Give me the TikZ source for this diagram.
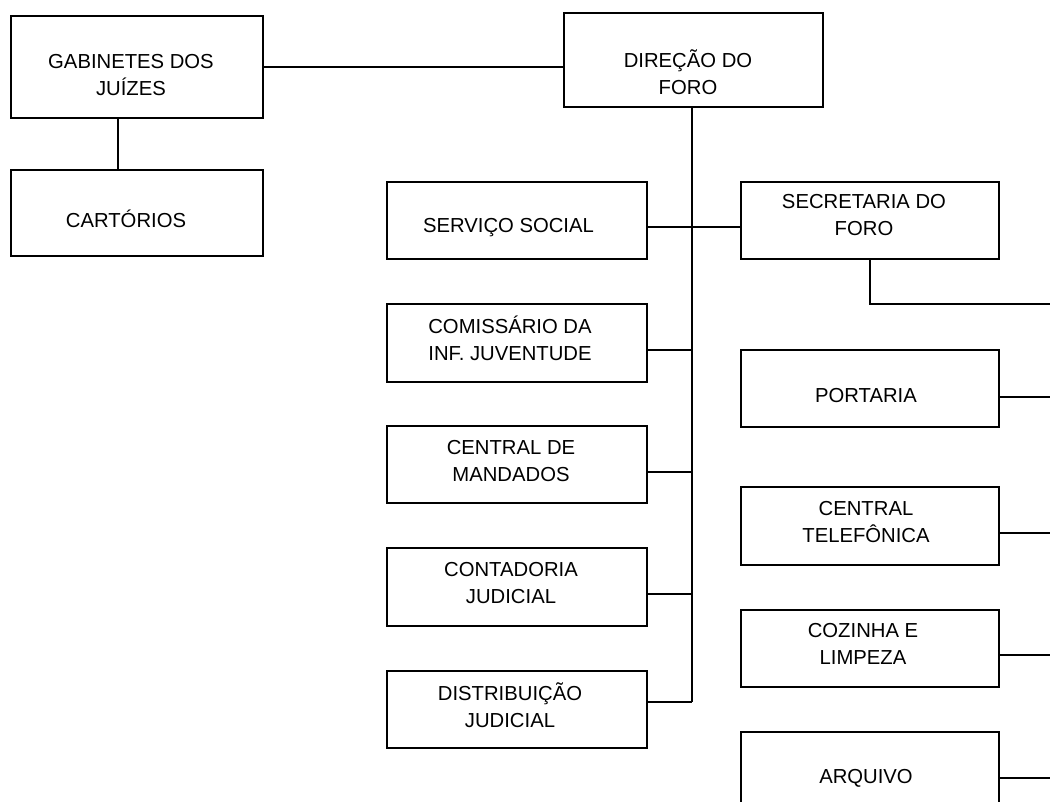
\documentclass[tikz,border=0pt]{standalone}
\usepackage{fontspec}
\setmainfont{Liberation Sans}
\newcommand{\boxfont}{\fontsize{15.2}{20.3}\selectfont}

\tikzset{every picture/.style={line width=1.5pt}}
\tikzset{
  unit/.style={draw, minimum width=195pt, minimum height=57.75pt, inner sep=0pt, outer sep=0pt},
  caption/.style={inner sep=0pt, align=center, font=\boxfont}
}

\begin{document}
\begin{tikzpicture}[x=0.75pt,y=0.75pt,yscale=-1,xscale=1]
%set diagram left start at 0, and has height of 802
\clip (0,0) rectangle (1050,802);

%Shape: Rectangle [id:gab]
\node [unit, minimum width=189pt, minimum height=76.5pt] (gab) at (137,67) {};
%Shape: Rectangle [id:cart]
\node [unit, minimum width=189pt, minimum height=64.5pt] (cart) at (137,213) {};
%Shape: Rectangle [id:dir]
\node [unit, minimum width=194.25pt, minimum height=70.5pt] (dir) at (693.5,60) {};

%Shape: Rectangle [id:serv]
\node [unit] (serv) at (517,220.5) {};
%Shape: Rectangle [id:com]
\node [unit, minimum height=58.5pt] (com) at (517,343) {};
%Shape: Rectangle [id:mand]
\node [unit] (mand) at (517,464.5) {};
%Shape: Rectangle [id:cont]
\node [unit, minimum height=58.5pt] (cont) at (517,587) {};
%Shape: Rectangle [id:dist]
\node [unit] (dist) at (517,709.5) {};

%Shape: Rectangle [id:sec]
\node [unit, minimum width=193.5pt] (sec) at (870,220.5) {};
%Shape: Rectangle [id:port]
\node [unit, minimum width=193.5pt] (port) at (870,388.5) {};
%Shape: Rectangle [id:tel]
\node [unit, minimum width=193.5pt, minimum height=58.5pt] (tel) at (870,526) {};
%Shape: Rectangle [id:coz]
\node [unit, minimum width=193.5pt] (coz) at (870,648.5) {};
%Shape: Rectangle [id:arq]
\node [unit, minimum width=193.5pt] (arq) at (870,770.5) {};

%Straight Lines [id:trunk]
\coordinate (gabdrop) at (118,0);
\coordinate (trunk) at (692,0);
\coordinate (rbus) at (1050,0);
\draw (gab.east) -- (gab.east -| dir.west);
\draw (gabdrop |- gab.south) -- (gabdrop |- cart.north);
\draw (trunk |- dir.south) -- (trunk |- 0,702);
\draw (serv.east |- 0,227) -- (sec.west |- 0,227);
\foreach \n/\y in {com/350, mand/472, cont/594, dist/702}
  \draw (\n.east |- 0,\y) -- (trunk |- 0,\y);
\draw (sec.south) |- (rbus |- 0,304);
\foreach \n/\y in {port/397, tel/533, coz/655, arq/778}
  \draw (\n.east |- 0,\y) -- (rbus |- 0,\y);

% Text Node
\node [caption] (gabtxt) at (131,75) {GABINETES DOS\\JUÍZES};
% Text Node
\node [caption] (carttxt) at (126,219) {CARTÓRIOS};
% Text Node
\node [caption] (dirtxt) at (688,72) {DIREÇÃO DO\\FORO};
% Text Node
\node [caption] (servtxt) at (508.5,227.5) {SERVIÇO SOCIAL};
% Text Node
\node [caption] (comtxt) at (510,338) {COMISSÁRIO DA\\INF. JUVENTUDE};
% Text Node
\node [caption] (mandtxt) at (511,461) {CENTRAL DE\\MANDADOS};
% Text Node
\node [caption] (conttxt) at (511,583) {CONTADORIA\\JUDICIAL};
% Text Node
\node [caption] (disttxt) at (510,705) {DISTRIBUIÇÃO\\JUDICIAL};
% Text Node
\node [caption] (sectxt) at (864,215) {SECRETARIA DO\\FORO};
% Text Node
\node [caption] (porttxt) at (866,396) {PORTARIA};
% Text Node
\node [caption] (teltxt) at (866,522) {CENTRAL\\TELEFÔNICA};
% Text Node
\node [caption] (coztxt) at (863,644) {COZINHA E\\LIMPEZA};
% Text Node
\node [caption] (arqtxt) at (866,778) {ARQUIVO};

\end{tikzpicture}
\end{document}
